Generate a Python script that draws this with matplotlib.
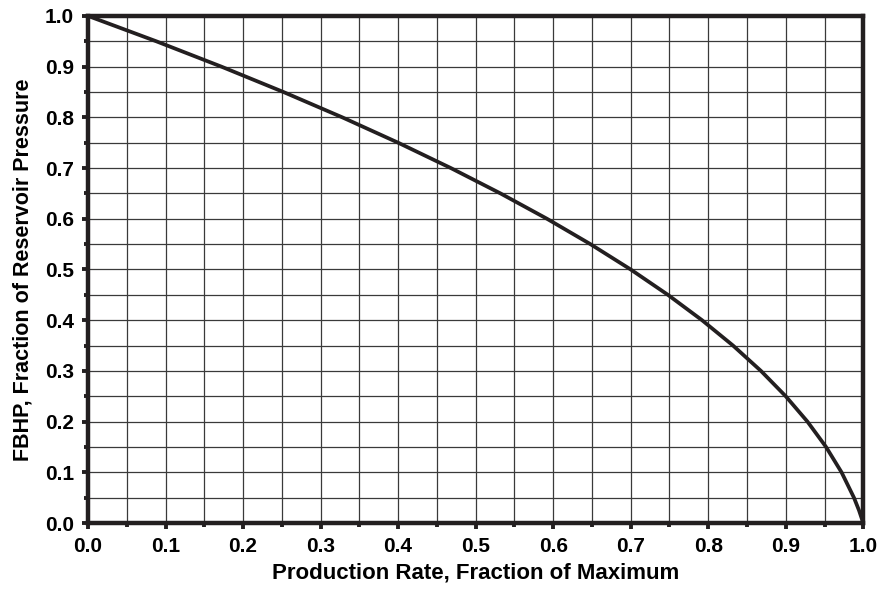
import matplotlib
matplotlib.use('Agg')
import matplotlib.pyplot as plt
import numpy as np
from matplotlib.ticker import MultipleLocator

# FBHP fraction vs production rate fraction
fbhp = [1.0, 0.95, 0.9, 0.85, 0.8, 0.75, 0.7, 0.65, 0.6, 0.55, 0.5,
        0.45, 0.4, 0.35, 0.3, 0.25, 0.2, 0.15, 0.1, 0.05, 0.025, 0.0]
rate = [0.0, 0.088, 0.172, 0.252, 0.328, 0.400, 0.468, 0.532, 0.592, 0.648, 0.700,
        0.748, 0.792, 0.832, 0.868, 0.900, 0.928, 0.952, 0.972, 0.988, 0.9945, 1.0]

plt.rcParams['font.family'] = ['Liberation Sans', 'DejaVu Sans']
plt.rcParams['font.weight'] = 'bold'

fig = plt.figure(figsize=(8.79, 5.89), dpi=100)
ax = fig.add_axes([0.1001, 0.112, 0.882, 0.861])

ax.plot(rate, fbhp, color='#231f20', lw=2.7, solid_capstyle='round', zorder=3)

ax.set_xlim(0, 1)
ax.set_ylim(0, 1)
ax.xaxis.set_major_locator(MultipleLocator(0.1))
ax.xaxis.set_minor_locator(MultipleLocator(0.05))
ax.yaxis.set_major_locator(MultipleLocator(0.1))
ax.yaxis.set_minor_locator(MultipleLocator(0.05))
ax.xaxis.set_major_formatter(plt.FuncFormatter(lambda v, p: '%.1f' % v))
ax.yaxis.set_major_formatter(plt.FuncFormatter(lambda v, p: '%.1f' % v))

ax.grid(which='both', color='#3a3a3a', lw=0.9)
ax.set_axisbelow(True)

for s in ax.spines.values():
    s.set_linewidth(3.2)
    s.set_color('#231f20')
    s.set_capstyle('projecting')
ax.tick_params(which='both', direction='out', length=4, width=2.8, color='#231f20',
               labelsize=15, pad=6)
ax.tick_params(which='minor', length=3)

ax.set_xlabel('Production Rate, Fraction of Maximum', fontsize=16, fontweight='bold', labelpad=5)
ax.set_ylabel('FBHP, Fraction of Reservoir Pressure', fontsize=15.5, fontweight='bold', labelpad=8)

fig.savefig('out.png', dpi=100)
